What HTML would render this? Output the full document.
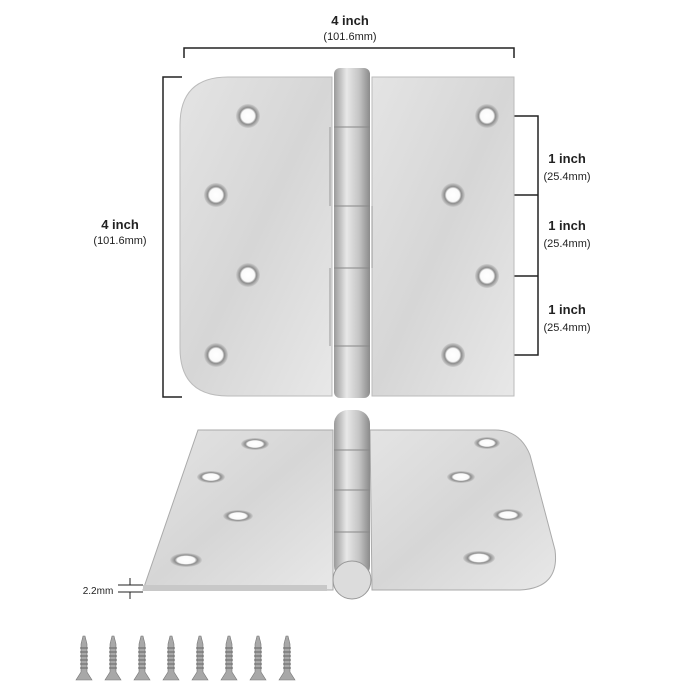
<!DOCTYPE html>
<html><head><style>
html,body{margin:0;padding:0;background:#fff;}
svg{display:block;font-family:"Liberation Sans",sans-serif;}
</style></head><body>
<svg width="700" height="700" viewBox="0 0 700 700">
<defs>
<linearGradient id="m" x1="0" y1="0" x2="1" y2="1">
<stop offset="0" stop-color="#e4e4e4"/><stop offset="0.5" stop-color="#d6d6d6"/><stop offset="1" stop-color="#e8e8e8"/></linearGradient>
<linearGradient id="b" x1="0" y1="0" x2="1" y2="0">
<stop offset="0" stop-color="#9a9a9a"/><stop offset="0.35" stop-color="#e8e8e8"/><stop offset="0.7" stop-color="#c4c4c4"/><stop offset="1" stop-color="#8a8a8a"/></linearGradient>
<radialGradient id="h"><stop offset="0" stop-color="#fff"/><stop offset="0.55" stop-color="#fafafa"/><stop offset="0.7" stop-color="#8d8d8d"/><stop offset="1" stop-color="#cfcfcf"/></radialGradient>
<g id="screw"><path d="M-1,0 L1,0 L3,8 L3,36 L8,44 L-8,44 L-3,36 L-3,8 Z" fill="#a8a8a8" stroke="#777" stroke-width="0.6"/>
<path d="M-4,12h8M-4,16h8M-4,20h8M-4,24h8M-4,28h8M-4,32h8" stroke="#666" stroke-width="1"/></g>
</defs>
<g fill="#222" text-anchor="middle">
<text x="350" y="25" font-size="13" font-weight="bold">4 inch</text>
<text x="350" y="40" font-size="11">(101.6mm)</text>
<text x="120" y="229" font-size="13" font-weight="bold">4 inch</text>
<text x="120" y="244" font-size="11">(101.6mm)</text>
<text x="567" y="163" font-size="13" font-weight="bold">1 inch</text>
<text x="567" y="180" font-size="11">(25.4mm)</text>
<text x="567" y="230" font-size="13" font-weight="bold">1 inch</text>
<text x="567" y="247" font-size="11">(25.4mm)</text>
<text x="567" y="314" font-size="13" font-weight="bold">1 inch</text>
<text x="567" y="331" font-size="11">(25.4mm)</text>
<text x="98" y="594" font-size="10">2.2mm</text>
</g>
<g stroke="#222" stroke-width="1.5" fill="none">
<path d="M184,58 V48 H514 V58"/>
<path d="M182,77 H163 V397 H182"/>
<path d="M498,116 H538 V355 H465 M466,195 H538 M498,276 H538"/>
<path d="M118,585 H143 M118,592 H143 M130,578 V585 M130,592 V599" stroke-width="1"/>
</g>
<!-- top hinge -->
<path d="M228,77 H332 V396 H228 Q180,396 180,348 V125 Q180,77 228,77 Z" fill="url(#m)" stroke="#bbb"/>
<rect x="372" y="77" width="142" height="319" fill="url(#m)" stroke="#bbb"/>
<rect x="334" y="68" width="36" height="330" rx="6" fill="url(#b)"/>
<g stroke="#888" stroke-width="1"><path d="M334,127H370M334,206H370M334,268H370M334,346H370"/></g>
<g stroke="#999" fill="none"><path d="M330,127V206M372,206V268M330,268V346"/></g>
<g fill="url(#h)">
<circle cx="248" cy="116" r="12"/><circle cx="216" cy="195" r="12"/><circle cx="248" cy="275" r="12"/><circle cx="216" cy="355" r="12"/>
<circle cx="487" cy="116" r="12"/><circle cx="453" cy="195" r="12"/><circle cx="487" cy="276" r="12"/><circle cx="453" cy="355" r="12"/>
</g>
<!-- bottom hinge -->
<path d="M198,430 H333 V590 H143 Z" fill="url(#m)" stroke="#aaa"/>
<path d="M143,585 H327 V591 H143 Z" fill="#c8c8c8"/>
<path d="M370,430 H495 Q520,430 530,455 L555,550 Q560,588 520,590 H372 Z" fill="url(#m)" stroke="#aaa"/>
<rect x="334" y="410" width="36" height="170" rx="14" fill="url(#b)"/>
<g stroke="#888"><path d="M334,450H370M334,490H370M334,532H370"/></g>
<circle cx="352" cy="580" r="19" fill="#dcdcdc" stroke="#999"/>
<g fill="url(#h)">
<ellipse cx="255" cy="444" rx="14" ry="6"/><ellipse cx="211" cy="477" rx="14" ry="6"/><ellipse cx="238" cy="516" rx="15" ry="6"/><ellipse cx="186" cy="560" rx="16" ry="7"/>
<ellipse cx="487" cy="443" rx="13" ry="6"/><ellipse cx="461" cy="477" rx="14" ry="6"/><ellipse cx="508" cy="515" rx="15" ry="6"/><ellipse cx="479" cy="558" rx="16" ry="7"/>
</g>
<g>
<use href="#screw" x="84" y="636"/><use href="#screw" x="113" y="636"/><use href="#screw" x="142" y="636"/><use href="#screw" x="171" y="636"/>
<use href="#screw" x="200" y="636"/><use href="#screw" x="229" y="636"/><use href="#screw" x="258" y="636"/><use href="#screw" x="287" y="636"/>
</g>
</svg>
</body></html>
